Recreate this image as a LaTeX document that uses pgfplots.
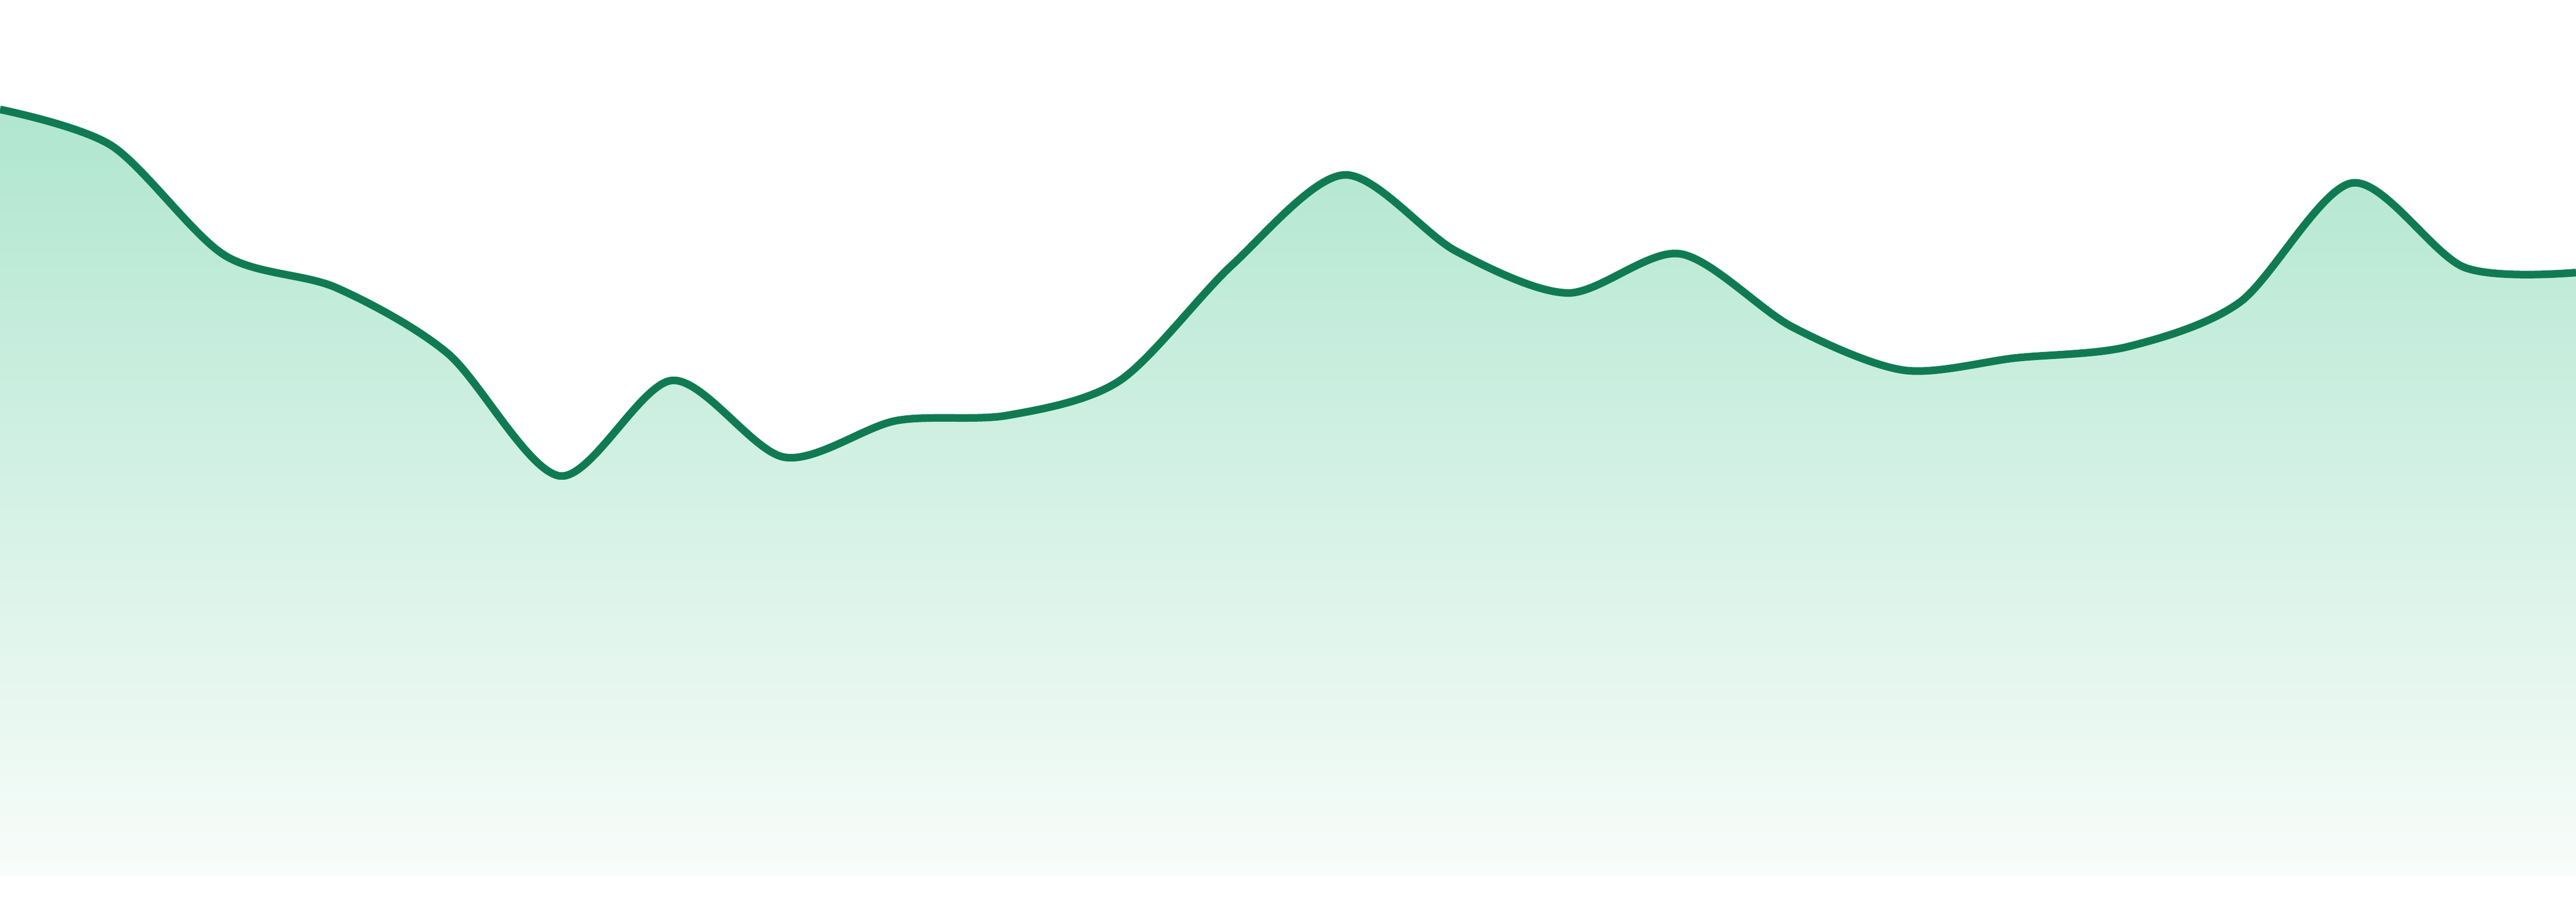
\documentclass[border=0pt]{standalone}
\usepackage{pgfplots}
\usepackage{pgfplotstable}
\pgfplotsset{compat=1.18}
\definecolor{linegreen}{RGB}{16,123,83}
\definecolor{filltop}{RGB}{176,230,208}
\definecolor{fillbot}{RGB}{248,252,250}
\pgfplotstableread{
x y
0 1428
1 1360
2 1157
3 1096
4 973
5 745
6 923
7 780
8 848
9 858
10 923
11 1138
12 1306
13 1164
14 1086
15 1159
16 1023
17 942
18 965
19 986
20 1069
21 1291
22 1134
23 1124
}\datatable
\begin{document}
\begin{tikzpicture}
\begin{axis}[scale only axis, width=16cm, height=5.6cm,
  xmin=0, xmax=23, ymin=-48, ymax=1632, hide axis, clip=true]
\addplot[draw=none, top color=filltop, bottom color=fillbot, smooth, tension=0.5] table {\datatable} \closedcycle;
\addplot[linegreen, line width=1.35pt, smooth, tension=0.5] table {\datatable};
\end{axis}
\pgfresetboundingbox
\path (current axis.south west) rectangle (current axis.north east);
\end{tikzpicture}
\end{document}
